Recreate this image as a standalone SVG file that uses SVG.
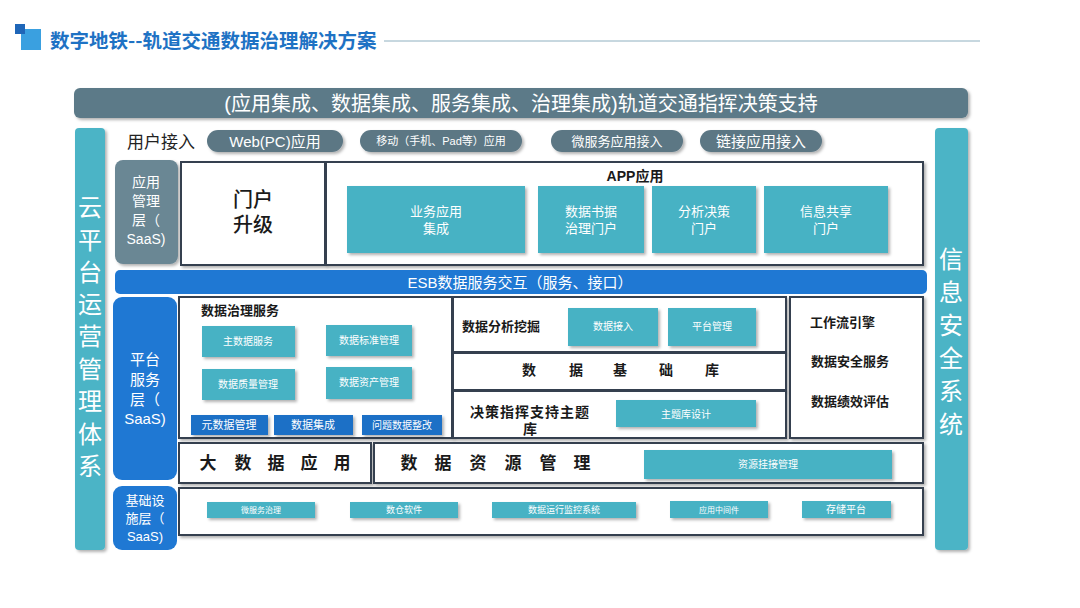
<svg xmlns="http://www.w3.org/2000/svg" width="1080" height="608" viewBox="0 0 1080 608">
<defs>
<filter id="sh" x="-10%" y="-10%" width="130%" height="140%"><feDropShadow dx="2" dy="2" stdDeviation="1.5" flood-color="#000" flood-opacity="0.3"/></filter>
</defs>
<style>
text{font-family:"Liberation Sans","Noto Sans CJK SC",sans-serif;}
.cjk{font-family:"Noto Sans CJK SC",sans-serif;}
.frame{fill:#fff;stroke:#34404f;stroke-width:2;filter:url(#sh);}
.teal{fill:#46b2c4;filter:url(#sh);}
.blue{fill:#1f78d3;}
.btnb{fill:#1f6fc6;filter:url(#sh);}
.pill{fill:#5c7784;filter:url(#sh);}
.wt{fill:#fff;text-anchor:middle;}
.bk{fill:#1a1a1a;font-weight:bold;}
.side{fill:#4cb4c6;filter:url(#sh);}
</style>
<rect width="1080" height="608" fill="#fff"/>
<g id="title">
<rect x="21" y="29" width="20" height="21" fill="#3aa0e0"/>
<rect x="15" y="24" width="10" height="10" fill="#1f66b8"/>
<line x1="384" y1="41" x2="980" y2="41" stroke="#8fb0c0" stroke-width="1"/>
<text x="50" y="48" font-size="19.5" font-weight="bold" fill="#1e72c4" class="cjk">数字地铁--轨道交通数据治理解决方案</text>
</g>
<g id="banner">
<rect x="74" y="88" width="894" height="30" rx="6" fill="#5c7a88" filter="url(#sh)"/>
<text x="521" y="111" font-size="20" class="wt">(应用集成、数据集成、服务集成、治理集成)轨道交通指挥决策支持</text>
</g>
<g id="left-bar">
<rect x="75" y="128" width="30" height="422" rx="4" class="side"/>
<text x="90" y="216" font-size="24" class="wt cjk">云</text>
<text x="90" y="249" font-size="24" class="wt cjk">平</text>
<text x="90" y="281" font-size="24" class="wt cjk">台</text>
<text x="90" y="313" font-size="24" class="wt cjk">运</text>
<text x="90" y="345" font-size="24" class="wt cjk">营</text>
<text x="90" y="378" font-size="24" class="wt cjk">管</text>
<text x="90" y="410" font-size="24" class="wt cjk">理</text>
<text x="90" y="443" font-size="24" class="wt cjk">体</text>
<text x="90" y="475" font-size="24" class="wt cjk">系</text>
</g>
<g id="right-bar">
<rect x="935" y="128" width="33" height="422" rx="4" class="side"/>
<text x="951" y="268" font-size="24" class="wt cjk">信</text>
<text x="951" y="301" font-size="24" class="wt cjk">息</text>
<text x="951" y="334" font-size="24" class="wt cjk">安</text>
<text x="951" y="367" font-size="24" class="wt cjk">全</text>
<text x="951" y="400" font-size="24" class="wt cjk">系</text>
<text x="951" y="433" font-size="24" class="wt cjk">统</text>
</g>
<g id="user-access">
<text x="127" y="148" font-size="17" fill="#222">用户接入</text>
<rect x="207" y="130" width="136" height="22" rx="11" class="pill"/>
<text x="275" y="147" font-size="15" class="wt">Web(PC)应用</text>
<rect x="360" y="130" width="162" height="22" rx="11" class="pill"/>
<text x="441" y="145" font-size="11" class="wt">移动（手机、Pad等）应用</text>
<rect x="551" y="130" width="132" height="22" rx="11" class="pill"/>
<text x="617" y="146" font-size="13" class="wt">微服务应用接入</text>
<rect x="700" y="130" width="122" height="22" rx="11" class="pill"/>
<text x="761" y="147" font-size="15" class="wt">链接应用接入</text>
</g>
<g id="app-layer">
<rect x="115" y="160" width="63" height="104" rx="8" fill="#6b8794" filter="url(#sh)"/>
<text x="146" y="187" font-size="14" class="wt">应用</text>
<text x="146" y="206" font-size="14" class="wt">管理</text>
<text x="146" y="225" font-size="14" class="wt">层（</text>
<text x="146" y="244" font-size="14" class="wt">SaaS)</text>
</g>
<g id="portal">
<rect x="181" y="162" width="144" height="103" class="frame"/>
<text x="253" y="207" font-size="20" text-anchor="middle" fill="#1a1a1a" font-weight="500">门户</text>
<text x="253" y="232" font-size="20" text-anchor="middle" fill="#1a1a1a" font-weight="500">升级</text>
</g>
<g id="app">
<rect x="326" y="162" width="597" height="103" class="frame"/>
<text x="635" y="181" font-size="14" text-anchor="middle" class="bk">APP应用</text>
<rect x="347" y="186" width="178" height="67" class="teal"/>
<text x="436" y="216" font-size="13" class="wt">业务应用</text>
<text x="436" y="233" font-size="13" class="wt">集成</text>
<rect x="538" y="186" width="106" height="67" class="teal"/>
<text x="591" y="216" font-size="13" class="wt">数据书据</text>
<text x="591" y="233" font-size="13" class="wt">治理门户</text>
<rect x="652" y="186" width="104" height="67" class="teal"/>
<text x="704" y="216" font-size="13" class="wt">分析决策</text>
<text x="704" y="233" font-size="13" class="wt">门户</text>
<rect x="764" y="186" width="124" height="67" class="teal"/>
<text x="826" y="216" font-size="13" class="wt">信息共享</text>
<text x="826" y="233" font-size="13" class="wt">门户</text>
</g>
<g id="esb">
<rect x="115" y="270" width="812" height="24" rx="5" class="blue"/>
<text x="520" y="288" font-size="15" class="wt">ESB数据服务交互（服务、接口）</text>
</g>
<g id="platform-layer">
<rect x="113" y="297" width="64" height="183" rx="9" class="blue"/>
<text x="145" y="365" font-size="15" class="wt">平台</text>
<text x="145" y="385" font-size="15" class="wt">服务</text>
<text x="145" y="405" font-size="15" class="wt">层（</text>
<text x="145" y="424" font-size="15" class="wt">SaaS)</text>
</g>
<g id="governance">
<rect x="179" y="297" width="273" height="141" class="frame"/>
<text x="201" y="315" font-size="13" class="bk">数据治理服务</text>
<rect x="202" y="326" width="93" height="31" class="teal"/>
<text x="248" y="345" font-size="10" class="wt">主数据服务</text>
<rect x="326" y="325" width="86" height="31" class="teal"/>
<text x="369" y="344" font-size="10" class="wt">数据标准管理</text>
<rect x="202" y="369" width="93" height="31" class="teal"/>
<text x="248" y="388" font-size="10" class="wt">数据质量管理</text>
<rect x="326" y="367" width="86" height="32" class="teal"/>
<text x="369" y="386" font-size="10" class="wt">数据资产管理</text>
<rect x="191" y="415" width="77" height="20" class="btnb"/>
<text x="229" y="429" font-size="11" class="wt">元数据管理</text>
<rect x="274" y="415" width="79" height="20" class="btnb"/>
<text x="313" y="429" font-size="11" class="wt">数据集成</text>
<rect x="362" y="415" width="80" height="20" class="btnb"/>
<text x="402" y="429" font-size="10" class="wt">问题数据整改</text>
</g>
<g id="analysis">
<rect x="453" y="297" width="333" height="55" class="frame"/>
<text x="462" y="331" font-size="13" class="bk">数据分析挖掘</text>
<rect x="568" y="308" width="90" height="38" class="teal"/>
<text x="613" y="330" font-size="10" class="wt">数据接入</text>
<rect x="668" y="308" width="88" height="38" class="teal"/>
<text x="712" y="330" font-size="10" class="wt">平台管理</text>
</g>
<g id="database">
<rect x="453" y="353" width="333" height="37" class="frame"/>
<text x="529" y="375" font-size="14" text-anchor="middle" class="bk">数</text>
<text x="576" y="375" font-size="14" text-anchor="middle" class="bk">据</text>
<text x="620" y="375" font-size="14" text-anchor="middle" class="bk">基</text>
<text x="666" y="375" font-size="14" text-anchor="middle" class="bk">础</text>
<text x="712" y="375" font-size="14" text-anchor="middle" class="bk">库</text>
</g>
<g id="topic">
<rect x="453" y="391" width="333" height="47" class="frame"/>
<text x="530" y="417" font-size="14" text-anchor="middle" class="bk" letter-spacing="1">决策指挥支持主题</text>
<text x="530" y="434" font-size="14" text-anchor="middle" class="bk">库</text>
<rect x="616" y="400" width="140" height="27" class="teal"/>
<text x="686" y="418" font-size="10" class="wt">主题库设计</text>
</g>
<g id="workflow">
<rect x="790" y="297" width="133" height="141" class="frame"/>
<text x="810" y="327" font-size="13" class="bk">工作流引擎</text>
<text x="811" y="366" font-size="13" class="bk">数据安全服务</text>
<text x="811" y="406" font-size="13" class="bk">数据绩效评估</text>
</g>
<g id="bigdata">
<rect x="179" y="443" width="192" height="40" class="frame"/>
<text x="208" y="469" font-size="17" text-anchor="middle" class="bk">大</text>
<text x="243" y="469" font-size="17" text-anchor="middle" class="bk">数</text>
<text x="276" y="469" font-size="17" text-anchor="middle" class="bk">据</text>
<text x="309" y="469" font-size="17" text-anchor="middle" class="bk">应</text>
<text x="342" y="469" font-size="17" text-anchor="middle" class="bk">用</text>
</g>
<g id="resource">
<rect x="374" y="443" width="549" height="40" class="frame"/>
<text x="409" y="469" font-size="17" text-anchor="middle" class="bk">数</text>
<text x="443" y="469" font-size="17" text-anchor="middle" class="bk">据</text>
<text x="478" y="469" font-size="17" text-anchor="middle" class="bk">资</text>
<text x="513" y="469" font-size="17" text-anchor="middle" class="bk">源</text>
<text x="548" y="469" font-size="17" text-anchor="middle" class="bk">管</text>
<text x="582" y="469" font-size="17" text-anchor="middle" class="bk">理</text>
<rect x="644" y="450" width="248" height="29" class="teal"/>
<text x="768" y="468" font-size="10" class="wt">资源挂接管理</text>
</g>
<g id="infra-layer">
<rect x="113" y="486" width="64" height="64" rx="9" class="blue"/>
<text x="145" y="505" font-size="13" class="wt">基础设</text>
<text x="145" y="523" font-size="13" class="wt">施层（</text>
<text x="145" y="541" font-size="13" class="wt">SaaS)</text>
</g>
<g id="infra">
<rect x="179" y="488" width="744" height="47" class="frame"/>
<rect x="207" y="502" width="108" height="16" class="teal"/>
<text x="261" y="513" font-size="8" class="wt">微服务治理</text>
<rect x="350" y="502" width="108" height="16" class="teal"/>
<text x="404" y="513" font-size="9" class="wt">数仓软件</text>
<rect x="492" y="502" width="144" height="16" class="teal"/>
<text x="564" y="513" font-size="9" class="wt">数据运行监控系统</text>
<rect x="670" y="501" width="98" height="17" class="teal"/>
<text x="719" y="513" font-size="8" class="wt">应用中间件</text>
<rect x="802" y="501" width="89" height="17" class="teal"/>
<text x="846" y="513" font-size="10" class="wt">存储平台</text>
</g>
<g id="connectors"></g>
</svg>
